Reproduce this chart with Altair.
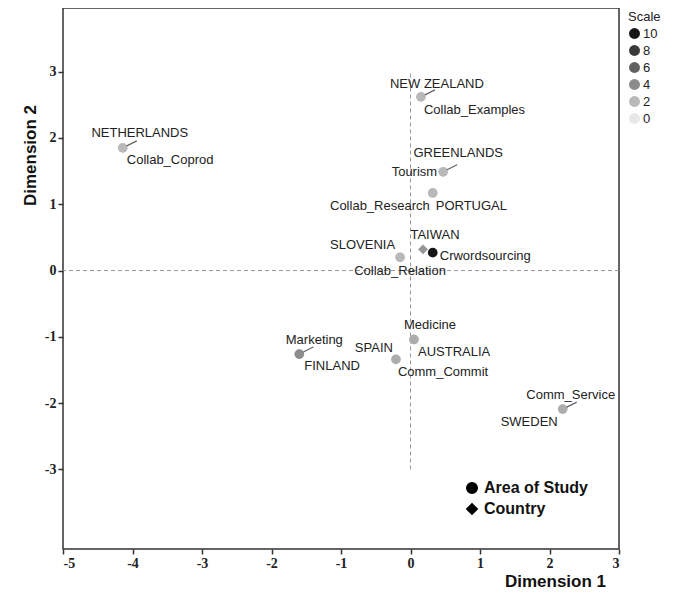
import altair as alt
import pandas as pd

# ---- data ----
countries = ["NETHERLANDS", "NEW ZEALAND", "GREENLANDS", "PORTUGAL", "TAIWAN",
             "SLOVENIA", "AUSTRALIA", "SPAIN", "FINLAND", "SWEDEN"]
country_x = [-4.14, 0.15, 0.47, 0.32, 0.18, -0.15, 0.05, -0.21, -1.60, 2.19]
country_y = [1.85, 2.62, 1.49, 1.17, 0.32, 0.20, -1.04, -1.34, -1.26, -2.09]
country_scale = [2, 2, 2, 2, 3.5, 2, 2.5, 2.5, 4, 2.5]

areas = ["Collab_Coprod", "Collab_Examples", "Tourism", "Collab_Research", "Crwordsourcing",
         "Collab_Relation", "Medicine", "Comm_Commit", "Marketing", "Comm_Service"]
area_x = [-4.14, 0.15, 0.47, 0.32, 0.32, -0.15, 0.05, -0.21, -1.60, 2.19]
area_y = [1.85, 2.62, 1.49, 1.17, 0.27, 0.20, -1.04, -1.34, -1.26, -2.09]
area_scale = [2, 2, 2, 2, 10, 2, 2.5, 2.5, 4, 2.5]

x_ticks = [-5, -4, -3, -2, -1, 0, 1, 2, 3]
y_ticks = [-3, -2, -1, 0, 1, 2, 3]
scale_legend_values = [10, 8, 6, 4, 2, 0]

# label placement (align, dx px, dy px)
label_place = {
    "NETHERLANDS": ("center", 17, -15), "Collab_Coprod": ("left", 4, 12),
    "NEW ZEALAND": ("center", 16, -13), "Collab_Examples": ("left", 3, 13),
    "GREENLANDS": ("center", 15, -19), "Tourism": ("right", -6, 0),
    "Collab_Research": ("right", -3, 13), "PORTUGAL": ("left", 3, 13),
    "TAIWAN": ("center", 12, -14), "Crwordsourcing": ("left", 7, 3),
    "SLOVENIA": ("right", -5, -12), "Collab_Relation": ("center", 0, 14),
    "Medicine": ("center", 16, -14), "AUSTRALIA": ("left", 4, 13),
    "SPAIN": ("right", -3, -11), "Comm_Commit": ("left", 2, 13),
    "Marketing": ("center", 15, -14), "FINLAND": ("left", 5, 12),
    "Comm_Service": ("center", 8, -14), "SWEDEN": ("right", -5, 13),
}
leader_labels = ["NETHERLANDS", "NEW ZEALAND", "GREENLANDS", "Marketing", "Comm_Service"]

df = pd.concat([
    pd.DataFrame({"label": countries, "x": country_x, "y": country_y,
                  "scale": country_scale, "type": "Country"}),
    pd.DataFrame({"label": areas, "x": area_x, "y": area_y,
                  "scale": area_scale, "type": "Area of Study"}),
], ignore_index=True)
df["order"] = range(len(df))

X = alt.Scale(domain=[-5, 3], nice=False, zero=False)
Y = alt.Scale(domain=[-4.2, 3.96], nice=False, zero=False)

xaxis = alt.Axis(values=x_ticks, labelExpr="'' + datum.value", title="Dimension 1", grid=False,
                 titleX=492, titleY=32, titleAlign="center", titleBaseline="middle",
                 titleFontSize=17, titleFontWeight="bold", titleFont="Liberation Sans")
yaxis = alt.Axis(values=y_ticks, labelExpr="'' + datum.value", title="Dimension 2", grid=False,
                 titleX=-33, titleY=147, titleAngle=270, titleAlign="center",
                 titleBaseline="middle", titleFontSize=17, titleFontWeight="bold",
                 titleFont="Liberation Sans")

base = alt.Chart(df)

# reference lines
hline = alt.Chart(pd.DataFrame({"y": [0]})).mark_rule(
    color="#999", strokeDash=[4, 3], strokeWidth=1).encode(y=alt.Y("y:Q", scale=Y, axis=yaxis))
vline = alt.Chart(pd.DataFrame({"x": [0], "y": [-3], "y2": [3]})).mark_rule(
    color="#999", strokeDash=[4, 3], strokeWidth=1).encode(
    x=alt.X("x:Q", scale=X, axis=xaxis), y=alt.Y("y:Q", scale=Y), y2="y2:Q")

points = base.mark_point(filled=True, size=95, opacity=1).encode(
    x=alt.X("x:Q", scale=X, axis=xaxis),
    y=alt.Y("y:Q", scale=Y, axis=yaxis),
    color=alt.Color("scale:Q",
                    scale=alt.Scale(domain=[0, 10], range=["#e8e8e8", "#161616"]),
                    legend=alt.Legend(orient="none", legendX=565, legendY=3, type="symbol",
                                      values=scale_legend_values, title="Scale",
                                      symbolType="circle", symbolSize=120,
                                      titleFontSize=13, titleFontWeight="normal",
                                      titleFont="Liberation Sans", titleColor="#222",
                                      labelFontSize=13, labelFont="Liberation Sans",
                                      labelColor="#222", rowPadding=3, labelOffset=2,
                                      symbolStrokeWidth=0, titlePadding=3)),
    shape=alt.Shape("type:N",
                    scale=alt.Scale(domain=["Area of Study", "Country"],
                                    range=["circle", "diamond"]),
                    legend=alt.Legend(orient="none", legendX=401, legendY=472, title=None,
                                      labelFontSize=16, labelFontWeight="bold",
                                      labelFont="Liberation Sans", labelColor="#111",
                                      symbolFillColor="black", symbolStrokeColor="black",
                                      symbolSize=110, rowPadding=3, labelOffset=4)),
    order=alt.Order("order:Q"),
)

leaders = base.transform_filter(
    alt.FieldOneOfPredicate(field="label", oneOf=leader_labels)
).mark_point(shape="M 0.4 -0.2 L 1.4 -0.7", size=400, filled=False,
             stroke="#222", strokeWidth=1.2).encode(
    x=alt.X("x:Q", scale=X), y=alt.Y("y:Q", scale=Y))

texts = []
for lab, (al, dx, dy) in label_place.items():
    texts.append(
        base.transform_filter(alt.datum.label == lab).mark_text(
            align=al, baseline="middle", dx=dx, dy=dy, fontSize=13,
            font="Liberation Sans", color="#222").encode(
            x=alt.X("x:Q", scale=X), y=alt.Y("y:Q", scale=Y), text="label:N")
    )

chart = alt.layer(hline, vline, points, leaders, *texts).properties(
    width=556, height=541,
    autosize=alt.AutoSizeParams(type="none"),
    padding={"left": 55, "top": 0, "right": 51, "bottom": 41},
).configure_view(stroke="#333", strokeWidth=1.5).configure_axis(
    domain=False, ticks=True, tickColor="#333", tickWidth=1.5, tickSize=5,
    labelFont="Liberation Serif", labelFontWeight="bold", labelFontSize=14,
    labelColor="#222", labelPadding=2, titleColor="#111",
)

chart.save("out.html", embed_options={"renderer": "svg", "actions": False})
